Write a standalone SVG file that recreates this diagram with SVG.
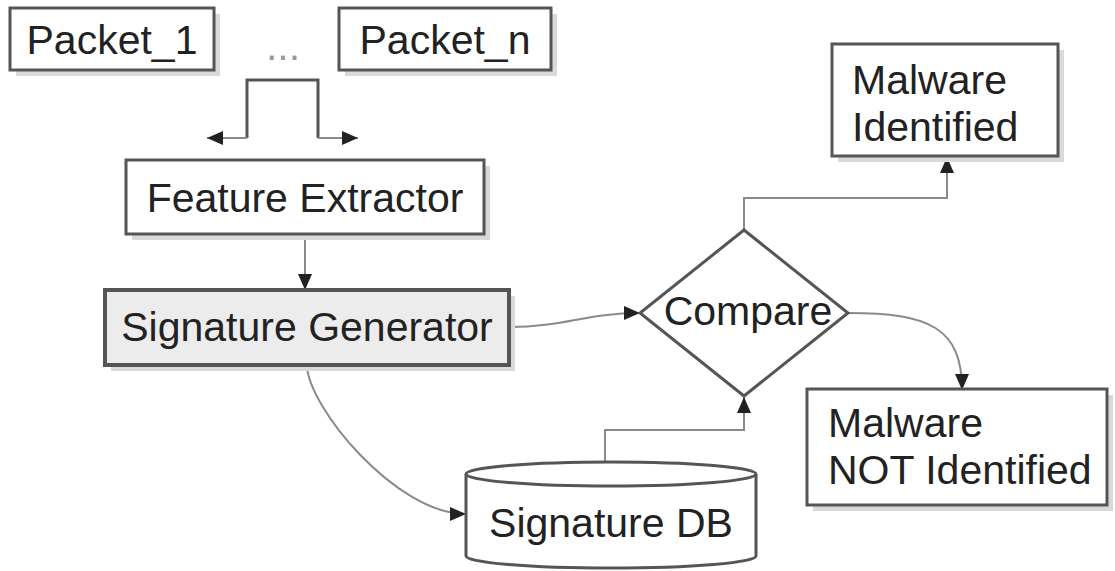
<svg xmlns="http://www.w3.org/2000/svg" width="1115" height="571" viewBox="0 0 1115 571">
  <style>
    .box { fill: #ffffff; stroke: #555555; stroke-width: 3; }
    .shadow { fill: #d9d9d9; stroke: none; }
    .lbl { font-family: "Liberation Sans", Arial, sans-serif; font-size: 41px; fill: #222222; }
    .mid { text-anchor: middle; }
    .edge { fill: none; stroke: #8a8a8a; stroke-width: 2; }
    .frame { fill: none; stroke: #555555; stroke-width: 3; }
  </style>
  <defs>
    <marker id="arrow" markerUnits="userSpaceOnUse" markerWidth="16" markerHeight="14" refX="16" refY="7" orient="auto">
      <path d="M0,0 L16,7 L0,14 z" fill="#222222"/>
    </marker>
  </defs>
  <rect width="1115" height="571" fill="#ffffff"/>

  <g id="connectors">
    <path class="frame" d="M247,138 V80 H318 V138"/>
    <path class="edge" d="M247,138 H207" marker-end="url(#arrow)"/>
    <path class="edge" d="M318,138 H358" marker-end="url(#arrow)"/>
    <path class="edge" d="M305,234 V290" marker-end="url(#arrow)"/>
    <path class="edge" d="M509,327 C565,327 585,313 640,313" marker-end="url(#arrow)"/>
    <path class="edge" d="M307,365 C307,405 395,514 466,514" marker-end="url(#arrow)"/>
    <path class="edge" d="M605,462 V430 H744 V397" marker-end="url(#arrow)"/>
    <path class="edge" d="M744,230 V198 H947 V157" marker-end="url(#arrow)"/>
    <path class="edge" d="M848,313 C930,313 962,328 962,390" marker-end="url(#arrow)"/>
  </g>

  <g id="packet-1">
    <rect class="shadow" x="16" y="14" width="204" height="62"/>
    <rect class="box" x="10" y="8" width="204" height="62"/>
    <text class="lbl mid" x="112" y="54" font-size="40">Packet_1</text>
  </g>

  <g id="ellipsis">
    <text class="lbl mid" x="283" y="60" font-size="44" fill="#999999" style="fill:#999999">...</text>
  </g>

  <g id="packet-n">
    <rect class="shadow" x="345" y="14" width="212" height="62"/>
    <rect class="box" x="339" y="8" width="212" height="62"/>
    <text class="lbl mid" x="445" y="54" font-size="40">Packet_n</text>
  </g>

  <g id="feature-extractor">
    <rect class="shadow" x="132" y="166" width="358" height="74"/>
    <rect class="box" x="126" y="160" width="358" height="74"/>
    <text class="lbl mid" x="305" y="212">Feature Extractor</text>
  </g>

  <g id="signature-generator">
    <rect class="shadow" x="111" y="296" width="404" height="75"/>
    <rect class="box" x="105" y="290" width="404" height="75" style="fill:#ececec; stroke-width:4"/>
    <text class="lbl mid" x="307" y="341">Signature Generator</text>
  </g>

  <g id="compare">
    <polygon class="box" points="744,230 848,313 744,396 640,313"/>
    <text class="lbl mid" x="748" y="325" font-size="36">Compare</text>
  </g>

  <g id="malware-identified">
    <rect class="shadow" x="838" y="50" width="226" height="112"/>
    <rect class="box" x="832" y="44" width="226" height="112"/>
    <text class="lbl" x="852" y="94">Malware</text>
    <text class="lbl" x="852" y="141">Identified</text>
  </g>

  <g id="malware-not-identified">
    <rect class="shadow" x="813" y="395" width="300" height="116"/>
    <rect class="box" x="807" y="389" width="300" height="116"/>
    <text class="lbl" x="828" y="437">Malware</text>
    <text class="lbl" x="828" y="484">NOT Identified</text>
  </g>

  <g id="signature-db">
    <path class="box" d="M466,474 A145,12 0 0 1 756,474 V556 A145,12 0 0 1 466,556 Z"/>
    <path class="frame" d="M466,474 A145,12 0 0 0 756,474"/>
    <text class="lbl mid" x="611" y="537">Signature DB</text>
  </g>
</svg>
